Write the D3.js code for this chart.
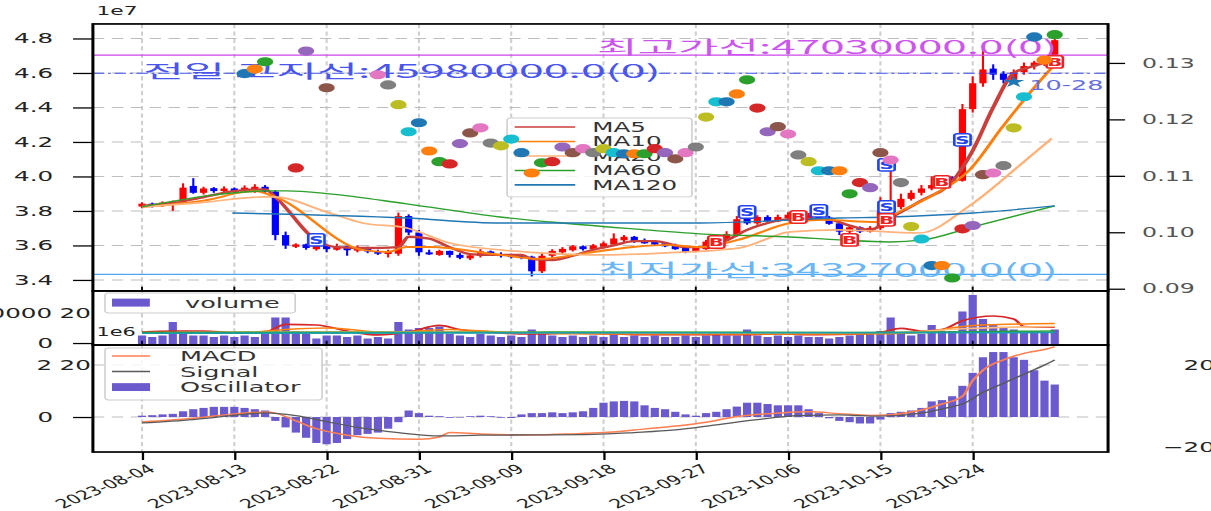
<!DOCTYPE html>
<html>
<head>
<meta charset="utf-8">
<script src="https://cdn.jsdelivr.net/npm/d3@7"></script>
<style>
body { margin: 0; background: #fff; }
svg { display: block; }
</style>
</head>
<body>
<svg id="chart"></svg>
<script>

// the figure is laid out on a 640x480 grid and stretched to the window, like the source image
const W = 640, H = 480

const startDay = Date.UTC(2023, 7, 4)
const dayMs = 86400000

const tickDates = ['2023-08-04', '2023-08-13', '2023-08-22', '2023-08-31', '2023-09-09',
	'2023-09-18', '2023-09-27', '2023-10-06', '2023-10-15', '2023-10-24']
const priceTicks = [3.4, 3.6, 3.8, 4.0, 4.2, 4.4, 4.6, 4.8]
const rightTicks = [0.09, 0.10, 0.11, 0.12, 0.13]

// [open, high, low, close] in 1e7 won, one per day from 2023-08-04
const candles = [
	[3.825, 3.850, 3.815, 3.842], [3.842, 3.848, 3.820, 3.828], [3.828, 3.855, 3.824, 3.848],
	[3.840, 3.860, 3.800, 3.856], [3.852, 3.960, 3.840, 3.935], [3.945, 3.990, 3.900, 3.905],
	[3.905, 3.940, 3.895, 3.930], [3.932, 3.938, 3.905, 3.915], [3.915, 3.942, 3.910, 3.930],
	[3.930, 3.936, 3.900, 3.912], [3.912, 3.948, 3.908, 3.935], [3.925, 3.955, 3.905, 3.940],
	[3.940, 3.950, 3.900, 3.912], [3.912, 3.920, 3.630, 3.660], [3.660, 3.680, 3.580, 3.600],
	[3.592, 3.612, 3.585, 3.606], [3.606, 3.610, 3.575, 3.585], [3.578, 3.600, 3.570, 3.598],
	[3.598, 3.600, 3.560, 3.578], [3.575, 3.610, 3.570, 3.595], [3.595, 3.598, 3.540, 3.572],
	[3.570, 3.600, 3.560, 3.590], [3.590, 3.592, 3.555, 3.565], [3.565, 3.575, 3.545, 3.552],
	[3.550, 3.575, 3.530, 3.565], [3.552, 3.790, 3.540, 3.770], [3.770, 3.780, 3.660, 3.675],
	[3.675, 3.690, 3.540, 3.560], [3.560, 3.575, 3.545, 3.548], [3.545, 3.575, 3.540, 3.568],
	[3.568, 3.570, 3.530, 3.545], [3.545, 3.555, 3.520, 3.528], [3.525, 3.548, 3.515, 3.542],
	[3.540, 3.578, 3.530, 3.565], [3.565, 3.570, 3.540, 3.548], [3.548, 3.560, 3.530, 3.540],
	[3.545, 3.552, 3.525, 3.532], [3.540, 3.548, 3.520, 3.528], [3.535, 3.540, 3.420, 3.450],
	[3.450, 3.555, 3.440, 3.540], [3.540, 3.578, 3.530, 3.568], [3.560, 3.590, 3.550, 3.580],
	[3.572, 3.602, 3.565, 3.595], [3.595, 3.600, 3.570, 3.578], [3.578, 3.608, 3.572, 3.600],
	[3.592, 3.622, 3.588, 3.612], [3.605, 3.670, 3.600, 3.640], [3.630, 3.660, 3.620, 3.650],
	[3.650, 3.655, 3.615, 3.625], [3.628, 3.640, 3.610, 3.612], [3.622, 3.630, 3.600, 3.605],
	[3.612, 3.620, 3.590, 3.595], [3.600, 3.610, 3.575, 3.578], [3.585, 3.590, 3.555, 3.562],
	[3.565, 3.595, 3.560, 3.585], [3.578, 3.632, 3.575, 3.622], [3.615, 3.652, 3.610, 3.638],
	[3.632, 3.682, 3.625, 3.665], [3.660, 3.770, 3.650, 3.752], [3.755, 3.820, 3.720, 3.728],
	[3.728, 3.775, 3.720, 3.765], [3.765, 3.775, 3.735, 3.740], [3.740, 3.778, 3.735, 3.765],
	[3.758, 3.792, 3.750, 3.778], [3.778, 3.785, 3.740, 3.748], [3.748, 3.788, 3.745, 3.775],
	[3.775, 3.785, 3.750, 3.755], [3.762, 3.770, 3.720, 3.725], [3.728, 3.735, 3.660, 3.680],
	[3.680, 3.712, 3.670, 3.705], [3.705, 3.710, 3.672, 3.680], [3.680, 3.712, 3.675, 3.702],
	[3.700, 3.880, 3.690, 3.800], [3.800, 4.050, 3.790, 3.822], [3.822, 3.900, 3.810, 3.870],
	[3.870, 3.920, 3.860, 3.905], [3.905, 3.950, 3.890, 3.930], [3.930, 4.000, 3.920, 3.950],
	[3.950, 4.000, 3.940, 3.985], [3.990, 4.000, 3.965, 3.972], [3.975, 4.420, 3.970, 4.390],
	[4.390, 4.580, 4.370, 4.540], [4.540, 4.740, 4.520, 4.620], [4.625, 4.650, 4.560, 4.590],
	[4.595, 4.610, 4.540, 4.560], [4.560, 4.620, 4.540, 4.605], [4.605, 4.660, 4.590, 4.640],
	[4.640, 4.670, 4.620, 4.660], [4.655, 4.690, 4.640, 4.680], [4.675, 4.800, 4.660, 4.790]
]

// moving averages as [day, value]
const ma5 = [[0, 3.83], [3, 3.845], [6, 3.88], [9, 3.915], [12, 3.925], [13, 3.88], [17, 3.63], [19, 3.59],
	[22, 3.585], [25, 3.59], [26, 3.65], [28, 3.64], [30, 3.59], [32, 3.55], [34, 3.545], [37, 3.545],
	[38, 3.52], [40, 3.515], [42, 3.54], [44, 3.575], [46, 3.60], [48, 3.625], [50, 3.625], [53, 3.59],
	[55, 3.59], [57, 3.63], [59, 3.69], [61, 3.73], [64, 3.755], [67, 3.75], [69, 3.715], [71, 3.69],
	[73, 3.76], [76, 3.86], [79, 3.97], [81, 4.15], [83, 4.40], [85, 4.60], [87, 4.64], [89, 4.68]]
const ma10 = [[0, 3.823], [6, 3.86], [11, 3.915], [13, 3.881], [21.5, 3.574], [23.9, 3.562], [25.8, 3.591],
	[28.1, 3.591], [34.9, 3.545], [38.8, 3.522], [43.4, 3.557], [47.9, 3.591], [51.2, 3.603], [54.4, 3.591],
	[58, 3.63], [63.2, 3.73], [66.4, 3.748], [71.6, 3.736], [74.2, 3.806], [77.5, 3.904], [80.7, 4.038],
	[83.9, 4.287], [86.8, 4.501], [88.7, 4.629]]
const ma20 = [[0, 3.823], [6, 3.85], [11.8, 3.881], [12.8, 3.881], [18.3, 3.788], [21.5, 3.73], [25.8, 3.701],
	[30, 3.614], [34.9, 3.574], [38.8, 3.557], [44.6, 3.545], [51.2, 3.557], [58.3, 3.586], [63.2, 3.678],
	[68, 3.69], [75.8, 3.672], [80.7, 3.83], [85.5, 4.06], [88.7, 4.22]]
const ma60 = [[0, 3.823], [12.5, 3.916], [14.1, 3.916], [18.3, 3.899], [25.8, 3.841], [34.9, 3.765],
	[39.8, 3.736], [47.9, 3.696], [54.4, 3.667], [63.2, 3.649], [68, 3.632], [72.9, 3.62], [76.1, 3.632],
	[81, 3.707], [89, 3.829]]
const ma120 = [[8.8, 3.788], [25.8, 3.759], [34.9, 3.73], [54.4, 3.73], [68, 3.759], [73, 3.765],
	[81, 3.788], [89, 3.829]]

// scatter on the right axis, [day, value], colours cycle through tab10
const dots = [[10, 0.1281], [11, 0.1289], [12, 0.1302], [15, 0.1114], [16, 0.1321], [18, 0.1256],
	[23, 0.1279], [24, 0.1261], [25, 0.1226], [26, 0.1178],
	[27, 0.1194], [28, 0.1144], [29, 0.1125], [30, 0.1121], [31, 0.1157], [32, 0.1176], [33, 0.1185],
	[34, 0.1158], [35, 0.1153], [36, 0.1165],
	[37, 0.1141], [38, 0.1105], [39, 0.1123], [40, 0.1125], [41, 0.1151], [42, 0.1141], [43, 0.1148],
	[44, 0.1141], [45, 0.1148], [46, 0.1141],
	[47, 0.1139], [48, 0.1139], [49, 0.1139], [50, 0.1148], [51, 0.1141], [52, 0.113], [53, 0.1141],
	[54, 0.1151], [55, 0.1204], [56, 0.1231],
	[57, 0.1231], [58, 0.1245], [59, 0.127], [60, 0.122], [61, 0.1178], [62, 0.1187], [63, 0.1174],
	[64, 0.1137], [65, 0.1125], [66, 0.1109],
	[67, 0.1109], [68, 0.1109], [69, 0.1068], [70, 0.1088], [71, 0.1079], [72, 0.1141], [73, 0.1128],
	[74, 0.1088], [75, 0.101], [76, 0.0988],
	[77, 0.0941], [78, 0.0941], [79, 0.0919], [80, 0.1006], [81, 0.1012], [82, 0.1102], [83, 0.1105],
	[84, 0.1118], [85, 0.1185], [86, 0.124],
	[87, 0.1346], [88, 0.1305], [89, 0.135]]
const tab10 = ['#1f77b4', '#ff7f0e', '#2ca02c', '#d62728', '#9467bd', '#8c564b', '#e377c2', '#7f7f7f', '#bcbd22', '#17becf']

// buy / sell flags [day, price, kind]
const flags = [[17, 3.632, 'S'], [56, 3.62, 'B'], [59, 3.794, 'S'], [64, 3.765, 'B'], [66, 3.80, 'S'],
	[69, 3.632, 'B'], [72.6, 3.823, 'S'], [72.6, 4.067, 'S'], [72.6, 3.748, 'B'], [78, 3.968, 'B'],
	[80, 4.212, 'S'], [89, 4.664, 'B']]

const maxPrice = 47030000, prevPrice = 45980000, minPrice = 34327000
const markDay = 85, markPrice = 4.548, markLabel = '10-28'

const volume = [5, 4, 5, 14, 6, 5, 5, 4, 5, 4, 5, 4, 7, 17, 17, 8, 6, 3, 5, 5,
	4, 5, 3, 4, 3, 14, 9, 10, 10, 11, 6, 5, 4, 6, 5, 4, 5, 4, 9, 7,
	5, 4, 5, 4, 5, 4, 6, 4, 5, 4, 5, 4, 4, 5, 4, 5, 6, 5, 5, 9,
	5, 4, 5, 4, 5, 4, 4, 3, 4, 5, 6, 6, 8, 17, 6, 5, 6, 12, 8, 8,
	21, 32, 16, 12, 10, 9, 8, 8, 7, 9]
const volMa5 = [[0, 7.3], [3, 8], [6, 8], [9, 7], [12, 7.3], [14, 12.4], [17, 12], [20, 8], [23, 5.4],
	[26, 7.3], [29, 11.7], [31, 9], [34, 7], [38, 6], [42, 6.5], [46, 6], [50, 5.5], [54, 5.5], [58, 5.5],
	[62, 6], [66, 5.5], [70, 6], [72, 7], [74, 9.8], [76, 8], [78, 9], [80, 14.9], [83, 18], [85, 16],
	[86, 11], [89, 10.5]]
const volMa10 = [[0, 7], [10, 7], [14, 9], [18, 10], [24, 7], [30, 9], [36, 7], [46, 6], [60, 6], [70, 6],
	[76, 7], [80, 11], [82, 12], [89, 13]]
const volMa20 = [[0, 6.5], [20, 7.5], [40, 7], [60, 6.5], [74, 7], [80, 9.5], [89, 11]]
const volMa60 = [[0, 7], [40, 7.2], [70, 7], [89, 8]]
const volMa120 = [[0, 6.5], [89, 7]]

const oscillator = [0.5, 0.7, 1.0, 1.2, 2.2, 3.0, 3.5, 3.9, 3.9, 3.9, 3.5, 3.0, 2.5, -1.5, -4, -6, -8, -10, -10.5, -10,
	-8.5, -7, -6.5, -6, -4.5, -2, 2.5, 1.5, 0.5, 0.3, -0.3, -0.2, 0.3, 0.5, 0.3, -0.3, -0.4, 1.0, 1.5, 1.5,
	1.8, 1.5, 1.8, 2.2, 3.5, 5.5, 6, 6.2, 6, 4.5, 3.5, 3, 2, 1, 0.5, 1.5, 2, 3, 4, 5.5,
	5.5, 5, 4.5, 4.5, 4.5, 3, 1.5, -0.5, -1.5, -2, -2.5, -2.5, -1, 1.5, 2, 2.5, 3.5, 6, 6.5, 8,
	12, 17, 23, 25, 25, 23, 22, 18, 14, 12.5]
const macd = [[0, -1.9], [5, -0.5], [9, 1.2], [12, 1.9], [13, 1.5], [15, -1.5], [17, -4.5], [20, -7], [23, -8.2],
	[27, -8.6], [29, -7.7], [30, -6], [33, -6.5], [38, -6.9], [42, -6.5], [45, -6], [48, -5], [52, -3.5],
	[55, -2], [58, 0.2], [62, 1.5], [65, 2], [68, 1.3], [71, 0.6], [73, 0.9], [76, 2.7], [78, 5], [80, 8],
	[81, 14], [82, 18], [84, 22], [86, 24.5], [88, 26], [89, 27]]
const signal = [[0, -2.3], [5, -1], [9, 0.6], [12, 1.6], [15, 0.5], [18, -1.8], [21, -4], [25, -6], [29, -7.3],
	[33, -7], [38, -6.9], [44, -6.7], [48, -6], [52, -5], [56, -3], [60, -1], [64, 0.5], [68, 0.8],
	[72, 0.3], [76, 1.5], [79, 4], [80, 5], [82, 9.5], [84, 13], [86, 16.5], [88, 20], [89, 22]]

const left = 49.1, right = 585.6
const mainTop = 22.5, mainBottom = 273.3
const volTop = 273.3, volBottom = 324.1
const macdTop = 324.1, macdBottom = 424.6
const labelEnd = 27.5

let svg = d3.select('#chart')
	.attr('width', 1211)
	.attr('height', 511)
	.attr('viewBox', `0 0 ${W} ${H}`)
	.attr('preserveAspectRatio', 'none')
	.style('font-family', 'DejaVu Sans, sans-serif')

let x = d3.scaleUtc()
	.domain([new Date(startDay - 4.79 * dayMs), new Date(startDay + 94.2 * dayMs)])
	.range([left, right])

const dayX = d => x(new Date(startDay + d * dayMs))
const dayW = dayX(1) - dayX(0)

let y = d3.scaleLinear().domain([3.336, 4.884]).range([mainBottom, mainTop])
let yRight = d3.scaleLinear().domain([0.0896, 0.1369]).range([mainBottom, mainTop])
let yVol = d3.scaleLinear().domain([0, 20]).range([322.2, 294.0])
let yMacd = d3.scaleLinear().domain([0, 20]).range([391.7, 342.9])
let yMacdRight = d3.scaleLinear().domain([-20, 20]).range([419.9, 342.9])

const tickDate = s => new Date(s + 'T00:00:00Z')

let defs = svg.append('defs')
;[['clipMain', mainTop, mainBottom], ['clipVol', volTop, volBottom], ['clipMacd', macdTop, macdBottom]]
	.forEach(c => {
		defs.append('clipPath').attr('id', c[0])
			.append('rect')
			.attr('x', left).attr('y', c[1])
			.attr('width', right - left).attr('height', c[2] - c[1])
	})

// grids
const vGrid = (top, bottom) => {
	svg.append('g')
		.selectAll('line')
		.data(tickDates)
		.join('line')
		.attr('x1', d => x(tickDate(d))).attr('x2', d => x(tickDate(d)))
		.attr('y1', top).attr('y2', bottom)
		.attr('stroke', '#cfcfcf')
		.attr('stroke-width', 1.1)
		.attr('stroke-dasharray', '4,3')
}
vGrid(mainTop, mainBottom)
vGrid(volTop, volBottom)
vGrid(macdTop, macdBottom)

svg.append('g')
	.selectAll('line')
	.data(priceTicks)
	.join('line')
	.attr('x1', left).attr('x2', right)
	.attr('y1', d => y(d)).attr('y2', d => y(d))
	.attr('stroke', '#bdbdbd')
	.attr('stroke-width', 0.9)
	.attr('stroke-dasharray', '6,4')

svg.append('g')
	.selectAll('line')
	.data([0, 20])
	.join('line')
	.attr('x1', left).attr('x2', right)
	.attr('y1', d => yMacd(d)).attr('y2', d => yMacd(d))
	.attr('stroke', '#bdbdbd')
	.attr('stroke-width', 0.9)
	.attr('stroke-dasharray', '6,4')

// price panel
let main = svg.append('g').attr('clip-path', 'url(#clipMain)')

const pLine = d3.line().x(d => dayX(d[0])).y(d => y(d[1])).curve(d3.curveMonotoneX)

let cg = main.append('g')
candles.forEach((c, i) => {
	let col = c[3] >= c[0] ? '#ff0000' : '#0000ff'
	cg.append('line')
		.attr('x1', dayX(i)).attr('x2', dayX(i))
		.attr('y1', y(c[1])).attr('y2', y(c[2]))
		.attr('stroke', col)
		.attr('stroke-width', 1.1)
	cg.append('rect')
		.attr('x', dayX(i) - dayW * 0.35)
		.attr('width', dayW * 0.7)
		.attr('y', y(Math.max(c[0], c[3])))
		.attr('height', Math.max(1.6, Math.abs(y(c[0]) - y(c[3]))))
		.attr('fill', col)
})

const maDefs = [
	{ name: 'MA5', data: ma5, color: '#c8403c', width: 2.2 },
	{ name: 'MA10', data: ma10, color: '#ff7f0e', width: 1.8 },
	{ name: 'MA20', data: ma20, color: '#ffb27a', width: 1.6 },
	{ name: 'MA60', data: ma60, color: '#2ca02c', width: 1.3 },
	{ name: 'MA120', data: ma120, color: '#1f77b4', width: 1.3 }
]

maDefs.forEach(m => {
	main.append('path')
		.attr('d', pLine(m.data))
		.attr('fill', 'none')
		.attr('stroke', m.color)
		.attr('stroke-width', m.width)
})

// level lines
main.append('line')
	.attr('x1', left).attr('x2', right)
	.attr('y1', y(maxPrice / 1e7)).attr('y2', y(maxPrice / 1e7))
	.attr('stroke', '#cc44ee').attr('stroke-width', 1.2)

main.append('line')
	.attr('x1', left).attr('x2', right)
	.attr('y1', y(prevPrice / 1e7)).attr('y2', y(prevPrice / 1e7))
	.attr('stroke', '#3d4ff0').attr('stroke-width', 1.1)
	.attr('stroke-dasharray', '6,2,1.5,2')

main.append('line')
	.attr('x1', left).attr('x2', right)
	.attr('y1', y(minPrice / 1e7)).attr('y2', y(minPrice / 1e7))
	.attr('stroke', '#4aa8f6').attr('stroke-width', 1.2)

const krFont = 'Noto Sans CJK KR, sans-serif'

const levelText = (tx, ty, len, color, str) => {
	main.append('text')
		.attr('x', tx).attr('y', ty)
		.attr('font-family', krFont).attr('font-size', 17.5)
		.attr('fill', color)
		.attr('textLength', len)
		.attr('lengthAdjust', 'spacingAndGlyphs')
		.text(str)
}
levelText(315.5, y(maxPrice / 1e7) - 1, 243.5, '#cc55ee', '최고가선:' + maxPrice.toFixed(1) + '(0)')
levelText(315.5, y(minPrice / 1e7) + 3, 243.5, '#6bb6f5', '최저가선:' + minPrice.toFixed(1) + '(0)')
levelText(75.6, y(prevPrice / 1e7) + 4, 273.5, '#4a55ee', '전일 고지선:' + prevPrice.toFixed(1) + '(0)')

main.append('path')
	.attr('d', d3.symbol(d3.symbolStar, 40)())
	.attr('transform', `translate(${dayX(markDay)},${y(markPrice)})`)
	.attr('fill', '#1f77b4')

main.append('text')
	.attr('x', 544).attr('y', y(markPrice) + 8)
	.attr('font-size', 13.5)
	.attr('fill', '#6670dd')
	.text(markLabel)

// buy/sell flags
let fg = main.append('g')
flags.forEach(f => {
	let col = f[2] === 'B' ? '#ee2222' : '#2244ee'
	fg.append('rect')
		.attr('x', dayX(f[0]) - 4.3).attr('y', y(f[1]) - 5.8)
		.attr('width', 8.6).attr('height', 11.6)
		.attr('rx', 1.5)
		.attr('fill', '#fff')
		.attr('stroke', col)
		.attr('stroke-width', 1.4)
	fg.append('text')
		.attr('x', dayX(f[0])).attr('y', y(f[1]) + 3.8)
		.attr('text-anchor', 'middle')
		.attr('font-size', 10.5).attr('font-weight', 'bold')
		.attr('fill', col)
		.text(f[2])
})

// legend
let lg = svg.append('g')
lg.append('rect')
	.attr('x', 268).attr('y', 110.8)
	.attr('width', 97.7).attr('height', 74.2)
	.attr('rx', 2)
	.attr('fill', '#fff').attr('fill-opacity', 0.8)
	.attr('stroke', '#cccccc').attr('stroke-width', 0.8)

maDefs.forEach((m, i) => {
	let ly = 119.3 + i * 13.6
	lg.append('line')
		.attr('x1', 272).attr('x2', 304)
		.attr('y1', ly).attr('y2', ly)
		.attr('stroke', m.color)
		.attr('stroke-width', 1.5)
	lg.append('text')
		.attr('x', 313).attr('y', ly)
		.attr('dy', '0.36em')
		.attr('font-size', 13)
		.attr('fill', '#333')
		.text(m.name)
})

// scatter over everything in the price panel
svg.append('g')
	.attr('clip-path', 'url(#clipMain)')
	.selectAll('circle')
	.data(dots)
	.join('circle')
	.attr('cx', d => dayX(d[0]))
	.attr('cy', d => yRight(d[1]))
	.attr('r', 4.3)
	.attr('fill', (d, i) => tab10[i % 10])

// volume panel
let vol = svg.append('g').attr('clip-path', 'url(#clipVol)')
vol.selectAll('rect')
	.data(volume)
	.join('rect')
	.attr('x', (d, i) => dayX(i) - dayW * 0.4)
	.attr('width', dayW * 0.8)
	.attr('y', d => yVol(d))
	.attr('height', d => yVol(0) - yVol(d) + 2)
	.attr('fill', '#6a5acd')

const vLine = d3.line().x(d => dayX(d[0])).y(d => yVol(d[1])).curve(d3.curveMonotoneX)
;[[volMa5, '#d62728'], [volMa10, '#ff7f0e'], [volMa20, '#ffbb78'], [volMa60, '#2ca02c'], [volMa120, '#17a0a8']]
	.forEach(v => {
		vol.append('path')
			.attr('d', vLine(v[0]))
			.attr('fill', 'none')
			.attr('stroke', v[1])
			.attr('stroke-width', 1.6)
	})

let vlg = svg.append('g')
vlg.append('rect')
	.attr('x', 55.5).attr('y', 275.2)
	.attr('width', 100.5).attr('height', 18.8)
	.attr('rx', 2)
	.attr('fill', '#fff').attr('fill-opacity', 0.8)
	.attr('stroke', '#cccccc').attr('stroke-width', 0.8)
vlg.append('rect')
	.attr('x', 59.2).attr('y', 280.5)
	.attr('width', 20).attr('height', 7.5)
	.attr('fill', '#6a5acd')
vlg.append('text')
	.attr('x', 97.8).attr('y', 284.4)
	.attr('dy', '0.36em')
	.attr('font-size', 13.5)
	.attr('fill', '#333')
	.text('volume')

// macd panel
let mg = svg.append('g').attr('clip-path', 'url(#clipMacd)')
mg.selectAll('rect')
	.data(oscillator)
	.join('rect')
	.attr('x', (d, i) => dayX(i) - dayW * 0.4)
	.attr('width', dayW * 0.8)
	.attr('y', d => yMacd(Math.max(0, d)))
	.attr('height', d => Math.abs(yMacd(d) - yMacd(0)))
	.attr('fill', '#6a5acd')

const mLine = d3.line().x(d => dayX(d[0])).y(d => yMacd(d[1])).curve(d3.curveMonotoneX)
mg.append('path').attr('d', mLine(macd))
	.attr('fill', 'none').attr('stroke', '#ff7f50').attr('stroke-width', 1.4)
mg.append('path').attr('d', mLine(signal))
	.attr('fill', 'none').attr('stroke', '#5a5a5a').attr('stroke-width', 1.2)

let mlg = svg.append('g')
mlg.append('rect')
	.attr('x', 55.5).attr('y', 326.9)
	.attr('width', 114.7).attr('height', 48.8)
	.attr('rx', 2)
	.attr('fill', '#fff').attr('fill-opacity', 0.8)
	.attr('stroke', '#cccccc').attr('stroke-width', 0.8)
;[['MACD', '#ff7f50', 'line'], ['Signal', '#5a5a5a', 'line'], ['Oscillator', '#6a5acd', 'bar']]
	.forEach((e, i) => {
		let ly = 334.4 + i * 14.6
		if (e[2] === 'line') {
			mlg.append('line')
				.attr('x1', 59.2).attr('x2', 79.3)
				.attr('y1', ly).attr('y2', ly)
				.attr('stroke', e[1]).attr('stroke-width', 1.3)
		} else {
			mlg.append('rect')
				.attr('x', 59.2).attr('y', ly - 3.7)
				.attr('width', 20.1).attr('height', 7.4)
				.attr('fill', e[1])
		}
		mlg.append('text')
			.attr('x', 95.1).attr('y', ly)
			.attr('dy', '0.36em')
			.attr('font-size', 13.5)
			.attr('fill', '#333')
			.text(e[0])
	})

// frames
;[[mainTop, mainBottom], [volTop, volBottom], [macdTop, macdBottom]].forEach(p => {
	svg.append('rect')
		.attr('x', left).attr('y', p[0])
		.attr('width', right - left).attr('height', p[1] - p[0])
		.attr('fill', 'none')
		.attr('stroke', '#000')
		.attr('stroke-width', 1.6)
})

// axes
let yAxis = svg.append('g')
	.attr('transform', `translate(${left},0)`)
	.call(d3.axisLeft(y).tickValues(priceTicks).tickSize(10.5).tickPadding(10.5).tickFormat(d3.format('.1f')))
let yRAxis = svg.append('g')
	.attr('transform', `translate(${right},0)`)
	.call(d3.axisRight(yRight).tickValues(rightTicks).tickSize(9).tickPadding(9).tickFormat(d3.format('.2f')))
let vAxis = svg.append('g')
	.attr('transform', `translate(${left},0)`)
	.call(d3.axisLeft(yVol).tickValues([0]).tickSize(10.5).tickPadding(10.5))
let mAxis = svg.append('g')
	.attr('transform', `translate(${left},0)`)
	.call(d3.axisLeft(yMacd).tickValues([0]).tickSize(10.5).tickPadding(10.5))
let mRAxis = svg.append('g')
	.attr('transform', `translate(642,0)`)
	.call(d3.axisLeft(yMacdRight).tickValues([-20, 20]).tickSize(0).tickPadding(0).tickFormat(d => d < 0 ? '\u221220' : '20'))
let xAxis = svg.append('g')
	.attr('transform', `translate(0,${macdBottom})`)
	.call(d3.axisBottom(x).tickValues(tickDates.map(tickDate)).tickSize(7.5).tickFormat(d3.utcFormat('%Y-%m-%d')))

;[yAxis, yRAxis, vAxis, mAxis, mRAxis, xAxis].forEach(a => {
	a.select('.domain').remove()
	a.selectAll('line').attr('stroke', '#000').attr('stroke-width', 1.2)
	a.selectAll('text').attr('font-family', 'DejaVu Sans, sans-serif').attr('font-size', 13).attr('fill', '#222')
})
yRAxis.selectAll('text').attr('font-size', 12.5).attr('fill', '#555')

xAxis.selectAll('text')
	.attr('text-anchor', 'end')
	.attr('y', 0)
	.attr('dy', '0.75em')
	.attr('font-size', 12)
	.attr('textLength', 61)
	.attr('lengthAdjust', 'spacingAndGlyphs')
	.attr('transform', 'translate(1.8,10.3) rotate(-36)')

// short date ticks under the two upper panels
;[mainBottom, volBottom].forEach(b => {
	svg.append('g')
		.selectAll('line')
		.data(tickDates)
		.join('line')
		.attr('x1', d => x(tickDate(d))).attr('x2', d => x(tickDate(d)))
		.attr('y1', b - 4).attr('y2', b)
		.attr('stroke', '#000')
		.attr('stroke-width', 1)
})

// stray labels of the twin axes
const extraLabels = [
	{ text: '20000000', x: labelEnd, y: yVol(20) },
	{ text: '20', x: 48, y: yVol(20) },
	{ text: '2', x: labelEnd, y: yMacd(20) },
	{ text: '20', x: 48, y: yMacd(20) }
]
svg.append('g')
	.selectAll('text')
	.data(extraLabels)
	.join('text')
	.attr('x', d => d.x).attr('y', d => d.y)
	.attr('dy', '0.35em')
	.attr('text-anchor', 'end')
	.attr('font-size', 13)
	.attr('fill', '#222')
	.text(d => d.text)

svg.append('text')
	.attr('x', 51).attr('y', 14.5)
	.attr('font-size', 11.5).attr('fill', '#222')
	.text('1e7')
svg.append('text')
	.attr('x', 51).attr('y', 316)
	.attr('font-size', 11).attr('fill', '#222')
	.text('1e6')

</script>
</body>
</html>
